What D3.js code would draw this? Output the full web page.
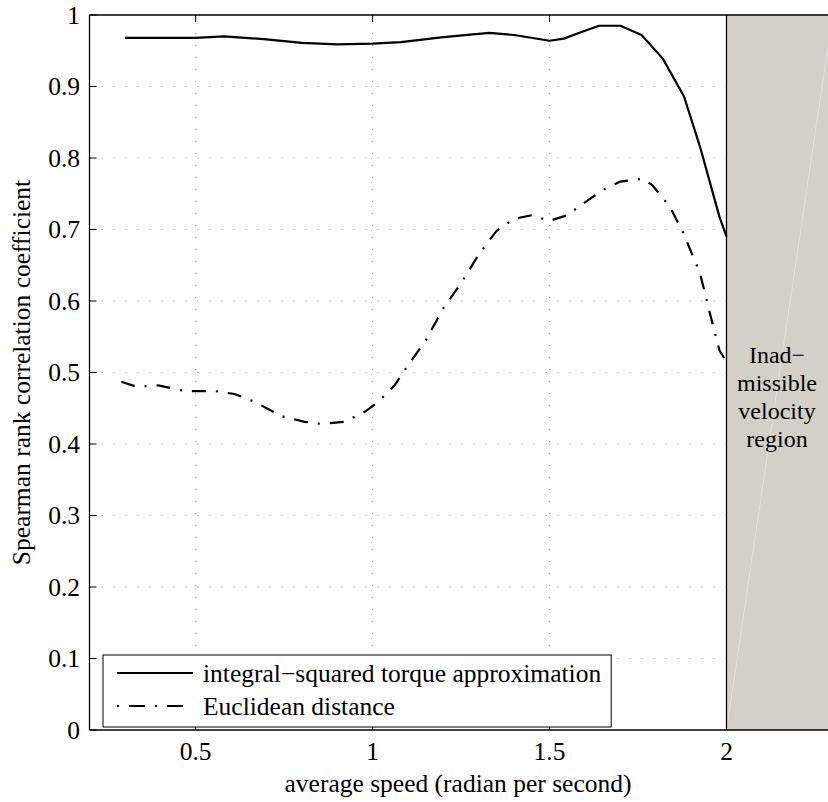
<!DOCTYPE html>
<html><head><meta charset="utf-8">
<script src="https://cdn.jsdelivr.net/npm/d3@7"></script>
<style>body{margin:0;background:#fff}svg{display:block}text{font-family:"Liberation Serif","Times New Roman",serif;fill:#000}</style>
</head><body>
<script>
const xTicks = [0.5, 1, 1.5, 2];
const yTicks = [0, 0.1, 0.2, 0.3, 0.4, 0.5, 0.6, 0.7, 0.8, 0.9, 1];
const torqueX = [0.3,0.4,0.5,0.58,0.7,0.8,0.9,1.0,1.08,1.2,1.33,1.4,1.5,1.54,1.6,1.64,1.70,1.76,1.82,1.88,1.925,1.98,2.0];
const torqueY = [0.968,0.968,0.968,0.970,0.966,0.961,0.959,0.960,0.962,0.969,0.975,0.972,0.964,0.967,0.978,0.985,0.985,0.972,0.939,0.886,0.816,0.718,0.69];
const euclidX = [0.29,0.333,0.394,0.47,0.554,0.61,0.667,0.742,0.808,0.856,0.92,0.978,1.016,1.062,1.1,1.15,1.2,1.25,1.3,1.35,1.4,1.45,1.5,1.55,1.6,1.65,1.7,1.765,1.79,1.84,1.878,1.925,1.953,1.98,2.0];
const euclidY = [0.487,0.480,0.482,0.474,0.474,0.470,0.459,0.439,0.431,0.428,0.431,0.445,0.459,0.482,0.51,0.545,0.59,0.625,0.665,0.698,0.715,0.72,0.712,0.72,0.738,0.755,0.767,0.771,0.762,0.732,0.695,0.639,0.583,0.531,0.515];
const legendLabels = ["integral\u2212squared torque approximation", "Euclidean distance"];
const regionLabel = ["Inad\u2212", "missible", "velocity", "region"];
const regionStart = 2, xMax = 2.3;

const W = 828, H = 802;
const pLeft = 89.5, pTop = 15, pBottom = 730;
const FS = 25.5;
const x = d3.scaleLinear().domain([0.2, xMax]).range([pLeft, pLeft + (726.5 - pLeft) / 1.8 * 2.1]);
const y = d3.scaleLinear().domain([0, 1]).range([pBottom, pTop]);

const svg = d3.select("body").append("svg").attr("width", W).attr("height", H);
const gridColor = "#8a8a8a";
// grid
svg.append("g").selectAll("line").data(yTicks.filter(d => d > 0 && d < 1)).join("line")
  .attr("x1", pLeft).attr("x2", x(regionStart)).attr("y1", d => y(d)).attr("y2", d => y(d))
  .attr("stroke", gridColor).attr("stroke-width", 1).attr("stroke-dasharray", "1,11");
svg.append("g").selectAll("line").data(xTicks.filter(d => d < regionStart)).join("line")
  .attr("x1", d => x(d)).attr("x2", d => x(d)).attr("y1", pBottom).attr("y2", pTop)
  .attr("stroke", gridColor).attr("stroke-width", 1).attr("stroke-dasharray", "1,11");

// region patch
svg.append("rect").attr("x", x(regionStart)).attr("y", pTop).attr("width", x(xMax) - x(regionStart)).attr("height", pBottom - pTop)
  .attr("fill", "#d4d0c8");
svg.append("line").attr("x1", x(regionStart)).attr("y1", y(0)).attr("x2", x(xMax)).attr("y2", y(1))
  .attr("stroke", "#e4e1db").attr("stroke-width", 1);
svg.append("line").attr("x1", x(regionStart)).attr("x2", x(regionStart)).attr("y1", pTop).attr("y2", pBottom)
  .attr("stroke", "#000").attr("stroke-width", 1.3);

// axes box and ticks
const axisG = svg.append("g");
axisG.append("line").attr("x1", pLeft).attr("x2", W + 10).attr("y1", pTop).attr("y2", pTop).attr("stroke", "#000").attr("stroke-width", 1.3);
axisG.append("line").attr("x1", pLeft).attr("x2", W + 10).attr("y1", pBottom).attr("y2", pBottom).attr("stroke", "#000").attr("stroke-width", 1.3);
axisG.append("line").attr("x1", pLeft).attr("x2", pLeft).attr("y1", pTop).attr("y2", pBottom).attr("stroke", "#000").attr("stroke-width", 1.3);
const tl = 7;
xTicks.forEach(t => {
  axisG.append("line").attr("x1", x(t)).attr("x2", x(t)).attr("y1", pBottom).attr("y2", pBottom - tl).attr("stroke", "#000");
  axisG.append("line").attr("x1", x(t)).attr("x2", x(t)).attr("y1", pTop).attr("y2", pTop + tl).attr("stroke", "#000");
  axisG.append("text").attr("x", x(t)).attr("y", 760).attr("text-anchor", "middle").attr("font-size", FS).text(String(t));
});
yTicks.forEach(t => {
  axisG.append("line").attr("x1", pLeft).attr("x2", pLeft + tl).attr("y1", y(t)).attr("y2", y(t)).attr("stroke", "#000");
  axisG.append("text").attr("x", 80).attr("y", y(t) + 8.5).attr("text-anchor", "end").attr("font-size", FS).text(String(t));
});
svg.append("text").attr("x", 458).attr("y", 792).attr("text-anchor", "middle").attr("font-size", FS)
  .text("average speed (radian per second)");
svg.append("text").attr("transform", `translate(30,${(pTop + pBottom) / 2}) rotate(-90)`).attr("text-anchor", "middle").attr("font-size", FS)
  .text("Spearman rank correlation coefficient");

// region label
const RFS = 24, RLH = 28;
regionLabel.forEach((s, i) => {
  svg.append("text").attr("x", 777).attr("y", 363 + i * RLH).attr("text-anchor", "middle").attr("font-size", RFS).text(s);
});

// lines
const line = d3.line().x(d => x(d[0])).y(d => y(d[1]));
svg.append("path").attr("d", line(d3.zip(torqueX, torqueY))).attr("fill", "none").attr("stroke", "#000").attr("stroke-width", 2.2).attr("stroke-linejoin", "round");
svg.append("path").attr("d", line(d3.zip(euclidX, euclidY))).attr("fill", "none").attr("stroke", "#000").attr("stroke-width", 2.2)
  .attr("stroke-dasharray", "14,10,2,10");

// legend
const lg = svg.append("g");
const lgTexts = [];
const lgBox = lg.append("rect").attr("x", 103).attr("y", 655).attr("height", 72).attr("fill", "#fff").attr("stroke", "#000").attr("stroke-width", 1);
const dashes = [null, "2,10,16,10"];
legendLabels.forEach((s, i) => {
  const yy = 673 + i * 33;
  lg.append("line").attr("x1", 117).attr("x2", 193).attr("y1", yy).attr("y2", yy).attr("stroke", "#000").attr("stroke-width", 2.2)
    .attr("stroke-dasharray", dashes[i]);
  lgTexts.push(lg.append("text").attr("x", 203).attr("y", yy + 8.5).attr("font-size", FS).text(s));
});
const maxW = d3.max(lgTexts, t => t.node().getComputedTextLength());
lgBox.attr("width", 203 + maxW + 10 - 103);
</script>
</body></html>
